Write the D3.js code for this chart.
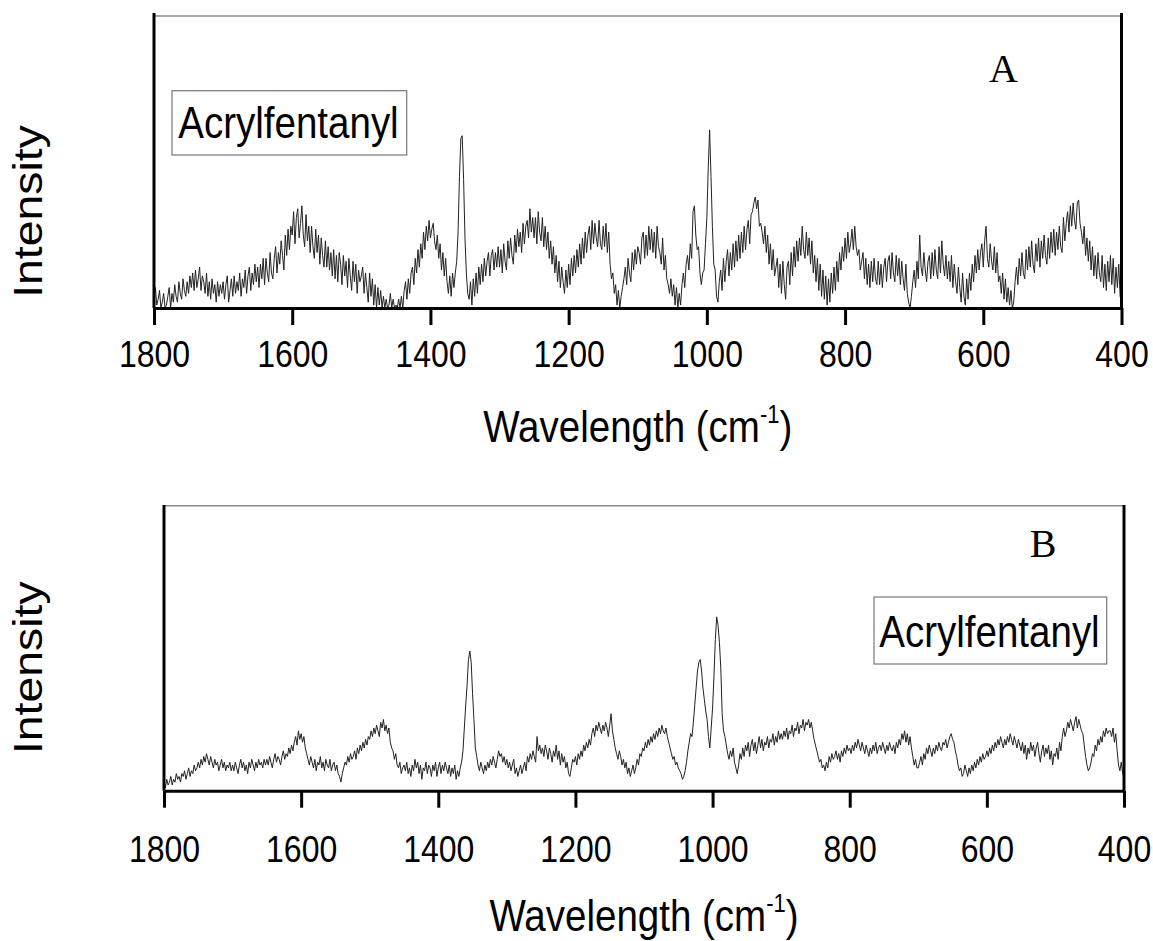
<!DOCTYPE html>
<html>
<head>
<meta charset="utf-8">
<script src="https://cdn.jsdelivr.net/npm/d3@7"></script>
<style>
  html, body { margin: 0; padding: 0; background: #fff; }
  svg { display: block; }
</style>
</head>
<body>
<svg id="chart" width="1153" height="941"></svg>
<script>
// Raman shift sampling grid (cm-1), high to low, 2 cm-1 step
const wavenumbers = d3.range(1800, 399, -2);

// Spectrum A, relative intensity (0 = bottom of the frame, 100 = top)
const intensityA = [
  // 1800-1752
  4,7,1,3,6,0,2,5,0,1,4,7,0,5,2,8,4,2,9,5,3,10,6,4,9,
  // 1750-1702
  5,11,7,12,6,13,7,10,14,6,11,9,5,12,4,9,3,10,5,8,2,9,4,8,5,
  // 1700-1652
  9,3,8,11,2,6,10,4,11,5,9,6,12,4,10,7,13,5,11,14,6,12,8,15,9,
  // 1650-1602
  14,7,15,10,17,8,17,12,9,19,12,10,17,21,12,19,15,23,18,13,25,18,27,20,28,
  // 1600-1552
  25,33,22,31,34,24,29,35,25,21,32,23,28,19,28,21,17,27,19,25,15,24,18,14,23,
  // 1550-1502
  14,21,13,19,11,20,10,18,9,19,15,8,18,11,16,7,17,11,6,16,9,15,5,13,9,
  // 1500-1452
  11,14,5,12,7,2,12,4,10,1,8,0,7,1,6,0,4,0,3,0,1,5,0,3,0,
  // 1450-1402
  1,0,3,0,4,0,6,9,3,10,5,12,14,8,17,12,20,14,22,17,26,20,28,23,30,
  // 1400-1352
  24,27,29,23,20,25,17,22,13,19,11,17,9,5,11,4,12,7,12,16,26,45,58,59,44,
  // 1350-1302
  24,12,5,3,9,1,10,4,12,5,14,8,15,9,17,11,16,19,11,18,20,13,19,14,21,
  // 1300-1252
  14,20,12,22,16,13,23,17,24,18,15,25,19,27,21,26,19,29,22,28,30,24,34,26,31,
  // 1250-1202
  24,31,22,33,26,23,31,21,28,20,26,17,23,15,21,12,18,9,16,7,14,9,5,13,7,
  // 1200-1152
  15,8,17,11,18,12,20,14,22,15,24,17,26,19,25,28,20,30,22,29,24,21,30,22,20,
  // 1150-1102
  28,21,29,19,26,15,10,12,5,8,1,6,0,4,7,10,14,8,17,12,9,19,13,20,15,
  // 1100-1052
  21,19,15,24,26,17,25,18,28,20,27,19,26,17,28,21,19,15,24,13,18,10,8,5,10,
  // 1050-1002
  4,8,1,7,0,5,1,8,12,7,15,18,13,22,17,33,35,25,20,21,12,8,12,13,22,
  // 1000-952
  31,48,61,45,28,15,13,4,2,9,13,6,17,9,16,20,11,19,13,22,14,23,16,25,17,
  // 950-902
  26,19,28,20,27,30,22,32,33,36,38,34,37,28,29,26,22,28,19,25,15,22,13,20,11,
  // 900-852
  14,17,7,15,5,16,8,3,14,16,8,19,11,21,14,23,16,24,18,28,20,17,26,18,24,
  // 850-802
  15,23,12,18,9,17,6,15,4,13,3,11,1,10,2,12,5,14,6,16,9,19,13,21,16,
  // 800-752
  24,17,26,19,22,27,20,28,21,18,20,13,16,19,10,17,8,15,7,16,9,17,10,8,16,
  // 750-702
  8,15,7,14,17,9,16,18,10,19,12,9,18,11,17,8,16,10,6,15,5,2,0,4,9,
  // 700-652
  13,7,16,10,25,14,11,19,13,9,16,18,10,19,11,20,13,10,21,12,23,15,11,18,10,
  // 650-602
  16,9,18,7,15,9,5,14,7,2,12,4,1,10,3,12,6,15,9,18,12,20,13,19,22,
  // 600-552
  14,23,28,17,14,22,16,13,21,12,19,9,11,5,12,3,10,2,7,1,6,0,2,9,14,
  // 550-502
  8,17,11,19,12,10,20,13,21,14,23,15,12,22,16,24,14,23,17,25,18,15,24,17,26,
  // 500-452
  19,27,18,26,20,28,21,19,31,23,29,33,26,35,28,36,30,27,36,37,29,26,22,28,18,
  // 450-402
  24,16,23,13,21,11,18,10,19,12,9,18,7,15,6,16,9,18,8,17,5,14,7,15,4,
  // 400
  2
];

// Spectrum B, relative intensity
const intensityB = [
  // 1800-1752
  3,1,4,2,3,5,2,4,3,6,4,5,3,6,5,7,4,6,8,5,7,6,9,7,8,
  // 1750-1702
  10,8,11,9,12,10,13,11,9,12,10,8,11,9,10,7,9,11,8,10,7,9,8,10,7,
  // 1700-1652
  9,7,10,8,6,9,11,8,10,7,9,6,10,8,11,9,7,10,8,11,9,10,8,11,9,
  // 1650-1602
  11,9,12,10,8,11,13,10,12,11,9,12,14,11,13,12,15,13,16,14,17,19,16,21,18,
  // 1600-1552
  20,17,19,15,13,11,9,12,10,8,11,7,10,9,12,8,10,7,11,9,8,11,7,9,10,
  // 1550-1502
  7,9,6,5,3,6,8,10,9,12,10,13,11,12,14,11,15,13,16,14,17,15,18,16,19,
  // 1500-1452
  18,21,19,22,20,23,21,19,24,22,25,21,23,20,22,17,15,14,11,13,9,8,10,6,8,
  // 1450-1402
  9,7,10,6,8,5,9,7,11,8,10,6,9,4,8,7,10,6,9,8,5,9,7,10,5,
  // 1400-1352
  8,10,6,9,7,10,8,6,9,5,8,6,9,4,7,5,8,10,14,22,30,37,46,49,45,
  // 1350-1302
  34,25,15,12,9,7,10,8,6,9,7,10,8,11,9,12,10,8,11,14,12,13,10,12,9,
  // 1300-1252
  11,8,10,7,9,11,6,8,5,7,9,6,8,10,7,12,10,13,11,14,12,10,19,14,16,
  // 1250-1202
  13,15,12,16,14,11,15,13,10,14,12,16,11,14,9,13,10,12,8,10,6,5,8,11,10,
  // 1200-1152
  12,9,13,11,14,12,16,14,17,15,18,16,20,22,19,23,21,24,22,20,23,21,24,22,19,
  // 1150-1102
  23,27,21,18,15,13,11,14,12,9,11,8,10,6,8,5,7,9,6,8,11,9,13,12,15,
  // 1100-1052
  14,17,15,18,16,19,17,20,18,21,19,22,20,23,21,20,22,19,17,15,13,11,12,9,10,
  // 1050-1002
  8,7,6,4,5,7,10,14,17,20,19,24,30,36,42,45,46,42,36,32,28,25,19,15,22,
  // 1000-952
  29,40,53,61,58,52,43,27,21,19,16,13,11,14,12,15,10,8,6,9,13,11,15,12,16,
  // 950-902
  14,17,12,16,18,14,17,13,16,19,15,18,14,17,16,19,15,18,17,20,16,19,17,21,18,
  // 900-852
  20,18,21,19,22,18,21,20,23,19,22,21,24,20,23,22,25,21,24,23,25,22,24,21,18,
  // 850-802
  16,14,12,10,11,8,9,7,10,8,12,10,13,11,12,14,11,13,10,14,12,15,13,16,14,
  // 800-752
  15,13,16,14,17,15,18,16,14,17,15,13,16,14,12,15,13,16,14,17,13,15,16,14,17,
  // 750-702
  15,13,16,14,17,15,14,16,13,17,15,18,16,20,18,21,17,20,16,19,15,12,9,11,8,
  // 700-652
  8,10,12,9,13,11,15,13,16,14,12,15,13,16,14,17,15,14,17,16,18,15,17,19,20,
  // 650-602
  18,17,14,12,9,7,8,5,6,9,7,5,8,6,9,7,10,8,11,9,12,10,13,11,12,
  // 600-552
  14,12,15,13,16,14,17,15,18,16,19,17,15,18,16,19,17,20,18,16,19,17,15,18,16,
  // 550-502
  14,17,13,16,11,15,13,17,14,16,12,15,17,13,10,14,16,12,15,13,16,11,14,9,13,
  // 500-452
  12,15,11,17,14,19,22,19,21,24,22,25,23,21,24,26,22,25,23,21,20,16,12,9,7,
  // 450-402
  8,10,13,12,16,14,18,16,19,17,21,19,22,20,21,21,19,22,17,20,14,9,7,10,6,
  // 400
  5
];

const xTicks = [1800, 1600, 1400, 1200, 1000, 800, 600, 400];
const xTitleMain = "Wavelength (cm";
const xTitleSup = "-1";
const yTitle = "Intensity";
const compoundName = "Acrylfentanyl";

// Layout of the two stacked panels
const panels = [
  {
    letter: "A", values: intensityA,
    left: 154, right: 1121.5, top: 16, bottom: 308, axisTop: 13,
    tickLen: 17, tickBase: 59, titleBase: 134, yLabelY: 211.5,
    legend: { x: 172, y: 90.7, w: 234.7, h: 64.3, tx: 288.5, ty: 138 },
    letterX: 1003.5, letterY: 82
  },
  {
    letter: "B", values: intensityB,
    left: 164, right: 1124, top: 505.7, bottom: 790.7, axisTop: 505,
    tickLen: 17, tickBase: 71, titleBase: 140, yLabelY: 667.7,
    legend: { x: 874, y: 597, w: 232.7, h: 67, tx: 989.5, ty: 647 },
    letterX: 1043, letterY: 557
  }
];

const SANS = "'Liberation Sans', Arial, Helvetica, sans-serif";
const SERIF = "'Liberation Serif', 'Times New Roman', serif";
const STRETCH = 1.16; // fonts in this figure are drawn taller than wide

const svg = d3.select("#chart");

panels.forEach(p => {
  const x = d3.scaleLinear().domain([1800, 400]).range([p.left, p.right]);
  const y = d3.scaleLinear().domain([0, 100]).range([p.bottom, p.top]);
  const g = svg.append("g");

  // thin grey top edge of the frame
  g.append("line")
    .attr("x1", x.range()[0]).attr("x2", x.range()[1])
    .attr("y1", y(100)).attr("y2", y(100))
    .attr("stroke", "#8a8a8a").attr("stroke-width", 1.5);

  // spectrum trace
  const line = d3.line()
    .x((d, i) => x(wavenumbers[i]))
    .y(d => y(d));
  g.append("path")
    .datum(p.values)
    .attr("fill", "none")
    .attr("stroke", "#222")
    .attr("stroke-width", 1)
    .attr("stroke-linejoin", "round")
    .attr("d", line);

  // left and right frame edges
  [x.range()[0], x.range()[1]].forEach(xx => {
    g.append("line")
      .attr("x1", xx).attr("x2", xx)
      .attr("y1", p.axisTop).attr("y2", y(0))
      .attr("stroke", "#000").attr("stroke-width", 3);
  });

  // bottom axis
  const axis = d3.axisBottom(x)
    .tickValues(xTicks)
    .tickSize(p.tickLen)
    .tickSizeOuter(0)
    .tickFormat(d3.format("d"));
  const ag = g.append("g")
    .attr("transform", `translate(0,${y(0)})`)
    .call(axis);
  ag.select(".domain").attr("stroke", "#000").attr("stroke-width", 3);
  ag.selectAll(".tick line").attr("stroke", "#000").attr("stroke-width", 3);
  ag.selectAll(".tick text")
    .attr("y", 0).attr("dy", null)
    .attr("transform", `translate(0,${p.tickBase}) scale(1,${STRETCH})`)
    .attr("fill", "#000")
    .style("font-family", SANS)
    .style("font-size", "32px");

  // x axis title with superscript
  const xt = g.append("text")
    .attr("transform", `translate(${(x.range()[0] + x.range()[1]) / 2},${y(0) + p.titleBase}) scale(1,${STRETCH})`)
    .attr("text-anchor", "middle")
    .style("font-family", SANS)
    .style("font-size", "38.5px")
    .attr("fill", "#000");
  xt.append("tspan").text(xTitleMain);
  xt.append("tspan").attr("dy", -16).style("font-size", "22px").text(xTitleSup);
  xt.append("tspan").attr("dy", 16).text(")");

  // y axis title
  g.append("text")
    .attr("transform", `translate(42,${p.yLabelY}) rotate(-90) scale(${STRETCH},1)`)
    .attr("text-anchor", "middle")
    .style("font-family", SANS)
    .style("font-size", "40px")
    .attr("fill", "#000")
    .text(yTitle);

  // compound label box
  g.append("rect")
    .attr("x", p.legend.x).attr("y", p.legend.y)
    .attr("width", p.legend.w).attr("height", p.legend.h)
    .attr("fill", "#fff").attr("stroke", "#777").attr("stroke-width", 1.2);
  g.append("text")
    .attr("transform", `translate(${p.legend.tx},${p.legend.ty}) scale(1,${STRETCH})`)
    .attr("text-anchor", "middle")
    .style("font-family", SANS)
    .style("font-size", "38.5px")
    .attr("fill", "#000")
    .text(compoundName);

  // panel letter
  g.append("text")
    .attr("x", p.letterX).attr("y", p.letterY)
    .attr("text-anchor", "middle")
    .style("font-family", SERIF)
    .style("font-size", "40px")
    .attr("fill", "#000")
    .text(p.letter);
});
</script>
</body>
</html>
